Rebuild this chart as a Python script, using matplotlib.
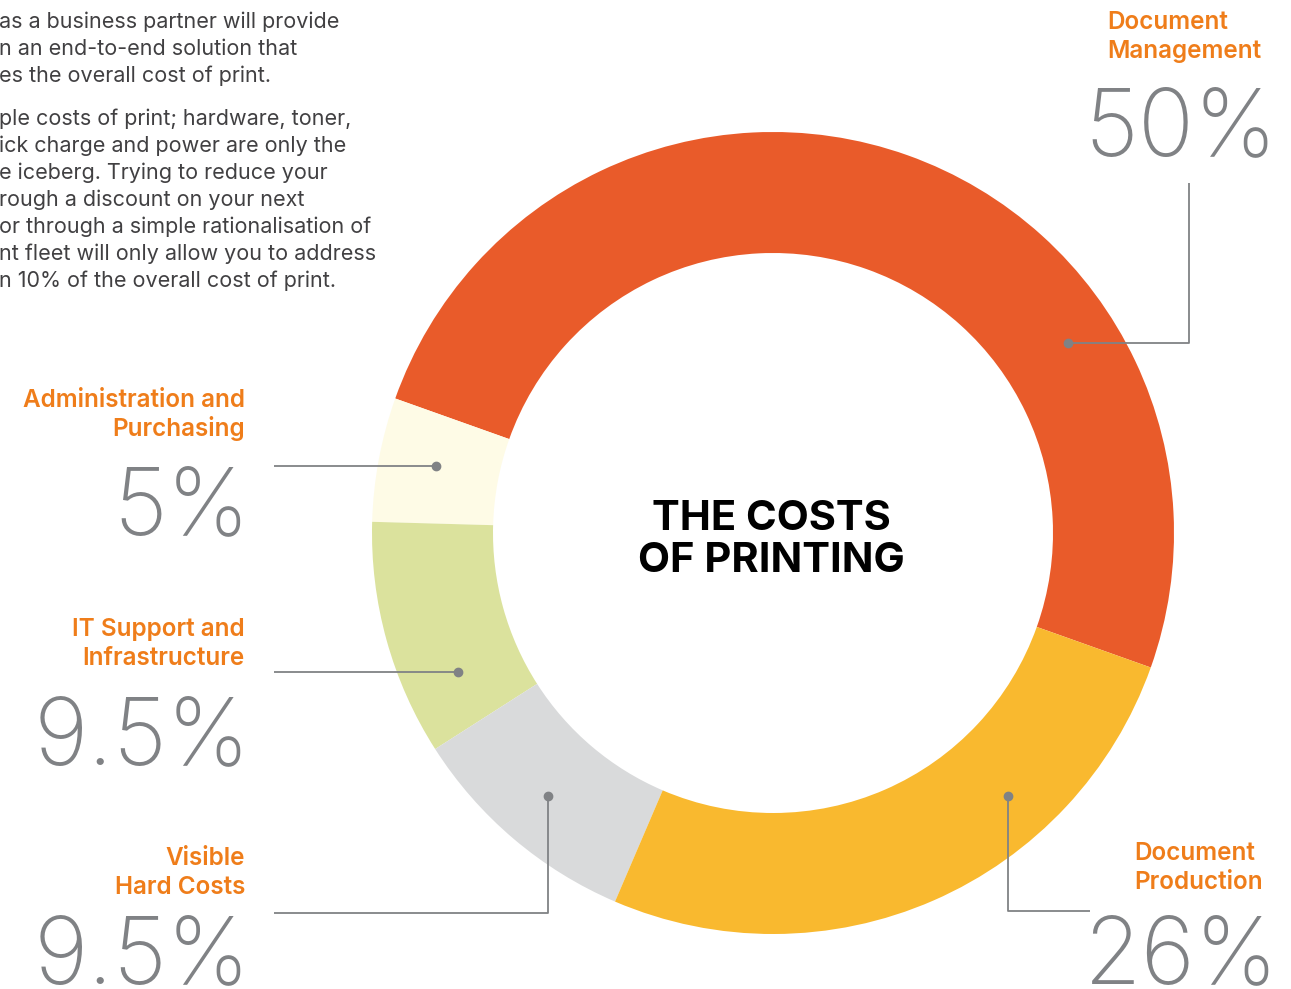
import numpy as np
import matplotlib
matplotlib.use("Agg")
import matplotlib.pyplot as plt

# segments, counter-clockwise starting at the lower right
labels = ["Document\nManagement", "Administration and\nPurchasing",
          "IT Support and\nInfrastructure", "Visible\nHard Costs",
          "Document\nProduction"]
shares = [50, 5, 9.5, 9.5, 26]
pct_text = ["50%", "5%", "9.5%", "9.5%", "26%"]
colors = ["#E95B2A", "#FEFBE6", "#DBE29D", "#D9DADB", "#F9B92F"]

intro = ["as a business partner will provide",
         "n an end-to-end solution that",
         "es the overall cost of print.",
         "ple costs of print; hardware, toner,",
         "ick charge and power are only the",
         "e iceberg. Trying to reduce your",
         "rough a discount on your next",
         "or through a simple rationalisation of",
         "nt fleet will only allow you to address",
         "n 10% of the overall cost of print."]

W, H = 1291, 989
cx, cy = 773, H - 533
R, ring = 401, 121

fig = plt.figure(figsize=(W / 100, H / 100), dpi=100)
ax = fig.add_axes([0, 0, 1, 1])

ax.pie(shares, colors=colors, startangle=-19.6, counterclock=True,
       center=(cx, cy), radius=R, wedgeprops=dict(width=ring, linewidth=0))
ax.set_xlim(0, W)
ax.set_ylim(0, H)
ax.set_aspect("equal")
ax.axis("off")

grey = "#808285"
orange = "#EF7D1A"
fam = ["Inter", "DejaVu Sans"]
num_font = dict(family=fam, fontweight="light", fontsize=67, color=grey,
                va="baseline")
lab_font = dict(family=fam, fontweight="semibold", fontsize=17.5,
                color=orange, va="baseline")

# centre title
ax.text(cx - 2, H - 530, "THE COSTS", ha="center", va="baseline",
        fontsize=30, fontweight="bold", family=fam, color="#000000")
ax.text(cx - 2, H - 572, "OF PRINTING", ha="center", va="baseline",
        fontsize=30, fontweight="bold", family=fam, color="#000000")

# intro paragraph, clipped by the left edge
for i, line in enumerate(intro):
    base = 28 + i * 27 if i < 3 else 125 + (i - 3) * 27
    ax.text(-1, H - base, line, ha="left", va="baseline", fontsize=15.5,
            color="#414042", family=fam)


def ring_point(angle, r=344):
    a = np.deg2rad(angle)
    return cx + r * np.cos(a), cy + r * np.sin(a)


def leader(pts):
    xs, ys = zip(*pts)
    ax.plot(xs, ys, color=grey, lw=1.3, solid_capstyle="butt")
    ax.plot(xs[0], ys[0], "o", color=grey, ms=6)


def label(x, base, text, ha):
    top, bottom = text.split("\n")
    ax.text(x, H - base, top, ha=ha, **lab_font)
    ax.text(x, H - base - 29, bottom, ha=ha, **lab_font)


# Document Management (top right)
px, py = ring_point(32.8, 351)
leader([(px, py), (1189, py), (1189, H - 183)])
label(1107, 29, labels[0], "left")
ax.text(1277, H - 155, pct_text[0], ha="right", **num_font)

# Administration and Purchasing
px, py = ring_point(168.8)
leader([(px, py), (274, py)])
label(245, 407, labels[1], "right")
ax.text(250, H - 534, pct_text[1], ha="right", **num_font)

# IT Support and Infrastructure
px, py = ring_point(203.8)
leader([(px, py), (274, py)])
label(245, 636, labels[2], "right")
ax.text(250, H - 764, pct_text[2], ha="right", **num_font)

# Visible Hard Costs
px, py = ring_point(229.5, 346)
leader([(px, py), (px, H - 913), (274, H - 913)])
label(245, 865, labels[3], "right")
ax.text(250, H - 983, pct_text[3], ha="right", **num_font)

# Document Production
px, py = ring_point(311.8, 353)
leader([(px, py), (px, H - 911), (1090, H - 911)])
label(1134, 860, labels[4], "left")
ax.text(1279, H - 983, pct_text[4], ha="right", **num_font)

fig.savefig("out.png", dpi=100)
